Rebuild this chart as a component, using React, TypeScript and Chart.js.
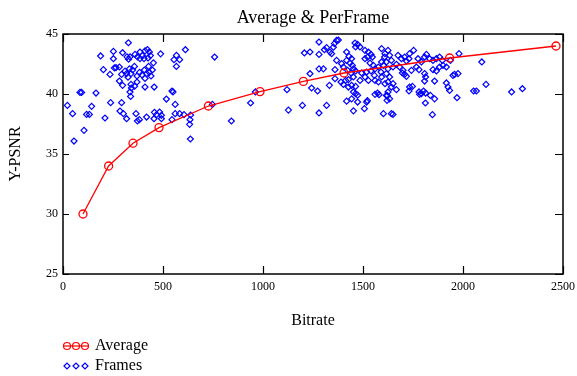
import React, { useEffect, useRef } from "react";
import { Chart, registerables } from "chart.js";

Chart.register(...registerables);

const titleText = "Average & PerFrame";
const xTitle = "Bitrate";
const yTitle = "Y-PSNR";
const legendLabels = ["Average", "Frames"];
const xTicks = [0, 500, 1000, 1500, 2000, 2500];
const yTicks = [25, 30, 35, 40, 45];

const avgBitrate = [100, 228, 350, 480, 727, 985, 1202, 1405, 1933, 2465];
const avgPsnr = [30.0, 34.0, 35.9, 37.2, 39.0, 40.2, 41.05, 41.75, 43.0, 44.0];

const frameBitrate = [
  327, 188, 252, 252, 298, 320, 328, 335, 360, 372, 385, 397, 410, 422, 432, 437, 425, 405, 385,
  202, 235, 257, 282, 293, 310, 318, 325, 332, 340, 348, 357, 370, 383, 395, 407, 418, 432, 440, 447, 428, 410,
  282, 298, 340, 342, 358, 370, 410, 456, 335, 338, 85, 93, 165, 22, 48, 143, 118, 132, 210, 238, 293, 285, 302,
  318, 365, 372, 382, 418, 457, 468, 455, 105, 55, 452, 488, 265,
  555, 567, 583, 567, 612, 758, 545, 550, 517, 561, 483, 492, 492, 545, 561, 583, 605, 638, 635, 633, 637,
  747, 842, 938, 962, 1120, 1127,
  1197, 1280, 1318, 1243, 1273, 1235, 1280, 1302, 1332, 1360, 1207, 1235, 1280, 1280, 1307, 1318, 1335, 1343,
  1357, 1368, 1377, 1352, 1368, 1360, 1393, 1402, 1390, 1402, 1413, 1418, 1430, 1443, 1418, 1435, 1447, 1423,
  1440, 1452, 1463, 1427, 1452, 1427, 1443, 1463, 1452, 1463, 1473, 1443, 1418, 1473, 1518, 1452, 1507, 1560,
  1573, 1602, 1460, 1473, 1485, 1463, 1510, 1527, 1540, 1547, 1523, 1510, 1535, 1552, 1560, 1577, 1593, 1602,
  1590, 1493, 1518, 1540, 1557, 1485, 1510, 1527, 1560, 1577, 1593, 1610, 1593, 1610,
  1625, 1608, 1633, 1642, 1617, 1625, 1650, 1667, 1675, 1692, 1708, 1717, 1733, 1730, 1753, 1775, 1792, 1808,
  1817, 1833, 1850, 1867, 1883, 1897, 1900, 1917, 1937, 1980, 2094, 1683, 1700, 1708, 1717, 1697, 1742, 1767,
  1780, 1808, 1813, 1850, 1867, 1883, 1617, 1633, 1625, 1650, 1642, 1667, 1625, 1617, 1633, 1620, 1733, 1747,
  1730, 1780, 1792, 1803, 1813, 1783, 1808, 1858, 1837, 1858, 1812, 1917, 1925, 1933, 1950, 1958, 1975, 1970,
  2053, 2067, 1642, 1650, 1847, 2115, 2243, 2297, 1580, 1622, 1522
];
const framePsnr = [
  44.27, 43.17, 43.55, 42.94, 43.44, 43.1, 42.9, 43.1, 43.3, 43.1, 43.5, 43.2, 43.6, 43.7, 43.5, 43.2, 43.0, 42.95, 42.95,
  42.03, 41.63, 42.17, 42.25, 41.63, 41.9, 41.7, 41.4, 42.1, 41.7, 42.0, 42.3, 41.5, 41.8, 41.6, 42.0, 41.7, 41.8, 41.5, 42.0, 42.3, 41.3,
  41.08, 40.72, 40.8, 40.5, 40.65, 41.0, 40.58, 40.58, 40.17, 39.8, 40.13, 40.13, 40.08, 39.05, 38.36, 38.97, 38.3, 38.3, 38.0, 39.28, 39.28, 38.58, 38.36,
  37.94, 38.36, 37.75, 37.86, 38.08, 38.47, 38.28, 37.94, 36.97, 36.08, 42.6, 43.35, 42.2,
  42.86, 43.22, 42.86, 42.3, 43.69, 43.08, 40.25, 40.17, 39.58, 39.13, 38.5, 38.22, 37.94, 37.86, 38.36, 38.36, 38.28, 38.25, 37.86, 37.47, 36.25,
  39.13, 37.75, 39.25, 40.17, 40.36, 38.66,
  39.05, 38.42, 39.05, 40.5, 40.25, 41.69, 42.1, 42.1, 40.72, 41.28, 43.42, 43.5, 44.33, 43.3, 43.69, 43.86, 43.5, 43.36,
  44.2, 44.47, 44.5, 43.9, 42.8, 42.03, 42.53, 42.25, 41.0, 40.8, 41.13, 43.5, 43.13, 42.94, 42.8, 42.58, 42.38, 41.97,
  41.75, 42.1, 41.92, 41.2, 41.42, 40.58, 40.72, 40.63, 40.17, 40.03, 39.9, 39.6, 39.4, 39.33, 39.33, 38.6, 38.78, 39.97,
  40.08, 38.36, 44.25, 44.13, 43.92, 43.92, 43.63, 43.5, 43.3, 43.08, 43.08, 42.94, 42.58, 42.38, 42.1, 42.25, 42.67, 42.38,
  41.83, 41.75, 41.83, 41.92, 41.55, 41.13, 41.42, 41.13, 41.13, 41.0, 41.42, 40.86, 43.78, 43.36,
  43.63, 43.08, 43.22, 42.8, 42.67, 42.1, 42.25, 42.47, 43.22, 42.94, 43.08, 42.75, 43.36, 42.94, 43.63, 42.94, 42.67, 43.08,
  43.3, 42.94, 42.8, 42.94, 43.08, 42.8, 42.38, 42.25, 42.8, 43.36, 42.67, 42.25, 41.97, 41.63, 41.47, 41.75, 41.97, 42.25,
  42.03, 41.7, 41.42, 42.03, 41.92, 42.25, 41.7, 41.42, 41.0, 40.86, 40.58, 40.36, 40.17, 39.88, 39.6, 39.47, 40.58, 40.63,
  40.25, 40.17, 40.03, 40.25, 40.08, 39.97, 41.08, 41.08, 39.88, 39.6, 39.25, 40.92, 40.58, 40.3, 41.55, 41.63, 41.7, 39.69,
  40.25, 40.25, 38.36, 38.3, 38.28, 40.8, 40.17, 40.44, 39.94, 39.86, 39.44
];

const SERIF = '"Liberation Serif", "Times New Roman", serif';
const RED = "#ff0000";
const BLUE = "#0000ff";

const decorPlugin = {
  id: "decor",
  afterDraw(chart: any) {
    const { ctx, chartArea } = chart;
    const { left, right, top, bottom } = chartArea;
    const xs = chart.scales.x;
    const ys = chart.scales.y;
    ctx.save();
    ctx.strokeStyle = "#000";
    ctx.lineWidth = 1.5;
    ctx.strokeRect(left, top, right - left, bottom - top);
    ctx.lineWidth = 1.2;
    ctx.beginPath();
    xTicks.forEach((v) => {
      const px = Math.round(xs.getPixelForValue(v)) + 0.5;
      ctx.moveTo(px, bottom);
      ctx.lineTo(px, bottom - 8);
      ctx.moveTo(px, top);
      ctx.lineTo(px, top + 8);
    });
    yTicks.forEach((v) => {
      const py = Math.round(ys.getPixelForValue(v)) + 0.5;
      ctx.moveTo(right, py);
      ctx.lineTo(right - 8, py);
      ctx.moveTo(left, py);
      ctx.lineTo(left + 6, py);
    });
    ctx.stroke();
    ctx.fillStyle = "#000";
    ctx.font = `18px ${SERIF}`;
    ctx.textAlign = "center";
    ctx.textBaseline = "middle";
    ctx.fillText(titleText, (left + right) / 2, 18);
    const lx = [67, 76, 85];
    const rowY = [346, 366];
    ctx.strokeStyle = RED;
    ctx.lineWidth = 1.2;
    ctx.beginPath();
    ctx.moveTo(63, rowY[0]);
    ctx.lineTo(89, rowY[0]);
    ctx.stroke();
    lx.forEach((cx) => {
      ctx.beginPath();
      ctx.arc(cx, rowY[0], 3.5, 0, Math.PI * 2);
      ctx.stroke();
    });
    ctx.strokeStyle = BLUE;
    lx.forEach((cx) => {
      ctx.beginPath();
      ctx.moveTo(cx - 3, rowY[1]);
      ctx.lineTo(cx, rowY[1] - 3);
      ctx.lineTo(cx + 3, rowY[1]);
      ctx.lineTo(cx, rowY[1] + 3);
      ctx.closePath();
      ctx.stroke();
    });
    ctx.fillStyle = "#000";
    ctx.font = `16px ${SERIF}`;
    ctx.textAlign = "left";
    ctx.fillText(legendLabels[0], 95, rowY[0]);
    ctx.fillText(legendLabels[1], 95, rowY[1]);
    ctx.restore();
  },
};

export default function App() {
  const ref = useRef<HTMLCanvasElement | null>(null);
  useEffect(() => {
    if (!ref.current) return;
    const chart = new Chart(ref.current, {
      type: "scatter",
      data: {
        datasets: [
          {
            label: legendLabels[0],
            data: avgBitrate.map((v, i) => ({ x: v, y: avgPsnr[i] })),
            showLine: true,
            borderColor: RED,
            borderWidth: 1.3,
            pointStyle: "circle",
            pointRadius: 4,
            pointBorderWidth: 1.3,
            pointBorderColor: RED,
            pointBackgroundColor: "rgba(0,0,0,0)",
            tension: 0,
          },
          {
            label: legendLabels[1],
            data: frameBitrate.map((v, i) => ({ x: v, y: framePsnr[i] })),
            showLine: false,
            pointStyle: "rectRot",
            pointRadius: 3,
            pointBorderWidth: 1.2,
            pointBorderColor: BLUE,
            pointBackgroundColor: "rgba(0,0,0,0)",
          },
        ],
      },
      options: {
        responsive: false,
        animation: false,
        events: [],
        layout: { padding: { top: 34, right: 14, bottom: 46, left: 0 } },
        plugins: {
          legend: { display: false },
          title: { display: false },
          tooltip: { enabled: false },
        },
        scales: {
          x: {
            type: "linear",
            min: 0,
            max: 2500,
            afterFit: (s: any) => {
              s.height = 56;
              s.paddingLeft = 0;
              s.paddingRight = 0;
            },
            afterBuildTicks: (s: any) => {
              s.ticks = xTicks.map((v) => ({ value: v }));
            },
            ticks: {
              padding: 6,
              color: "#000",
              font: { family: SERIF, size: 12 },
              callback: (v: any) => String(v),
            },
            grid: { display: false, drawTicks: false },
            border: { display: false },
            title: {
              display: true,
              text: xTitle,
              color: "#000",
              font: { family: SERIF, size: 16 },
              padding: 0,
            },
          },
          y: {
            type: "linear",
            min: 25,
            max: 45,
            afterFit: (s: any) => {
              s.width = 63;
              s.paddingTop = 0;
              s.paddingBottom = 0;
            },
            afterBuildTicks: (s: any) => {
              s.ticks = yTicks.map((v) => ({ value: v }));
            },
            ticks: {
              padding: 5,
              color: "#000",
              font: { family: SERIF, size: 12 },
              callback: (v: any) => String(v),
            },
            grid: { display: false, drawTicks: false },
            border: { display: false },
            title: {
              display: true,
              text: yTitle,
              color: "#000",
              font: { family: SERIF, size: 16 },
              padding: { top: 6, bottom: 0 },
            },
          },
        },
      },
      plugins: [decorPlugin],
    } as any);
    return () => chart.destroy();
  }, []);
  return (
    <div style={{ position: "absolute", left: 0, top: 0, width: 577, height: 376, background: "#fff" }}>
      <canvas ref={ref} width={577} height={376} />
    </div>
  );
}
